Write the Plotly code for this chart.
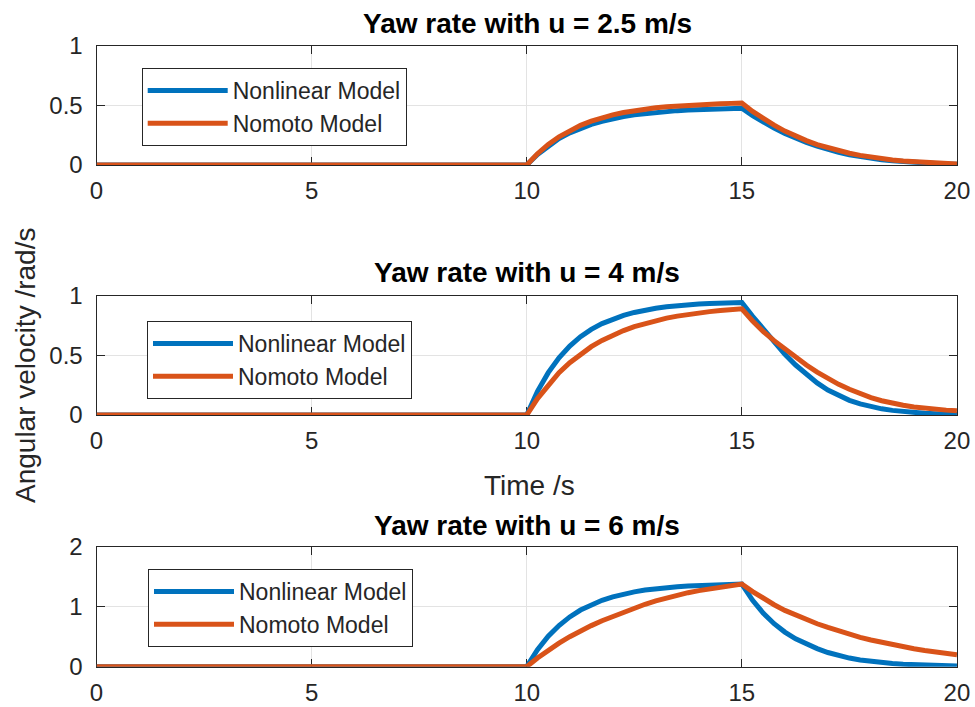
import plotly.graph_objects as go

# Time samples (s)
time_s = [0, 10, 10.25, 10.5, 10.75, 11, 11.25, 11.5, 11.75, 12, 12.25, 12.5, 12.75,
          13, 13.25, 13.5, 13.75, 14, 14.25, 14.5, 14.75, 15, 15.25, 15.5, 15.75,
          16, 16.25, 16.5, 16.75, 17, 17.25, 17.5, 17.75, 18, 18.25, 18.5, 18.75,
          19, 19.25, 19.5, 19.75, 20]

# u = 2.5 m/s
nonlinear_25 = [0, 0, 0.089, 0.162, 0.222, 0.27, 0.31, 0.342, 0.368, 0.39, 0.407, 0.422, 0.433,
                0.443, 0.451, 0.457, 0.462, 0.466, 0.47, 0.473, 0.475, 0.477, 0.415, 0.36, 0.31,
                0.265, 0.225, 0.19, 0.158, 0.13, 0.106, 0.086, 0.069, 0.055, 0.044, 0.035, 0.027,
                0.021, 0.016, 0.012, 0.009, 0.006]
nomoto_25 = [0, 0, 0.095, 0.173, 0.237, 0.29, 0.333, 0.368, 0.397, 0.421, 0.441, 0.457, 0.47,
             0.481, 0.49, 0.497, 0.503, 0.508, 0.512, 0.515, 0.518, 0.52, 0.45, 0.39, 0.335,
             0.285, 0.242, 0.205, 0.172, 0.144, 0.12, 0.099, 0.081, 0.066, 0.053, 0.042, 0.033,
             0.026, 0.02, 0.015, 0.011, 0.008]

# u = 4 m/s
nonlinear_4 = [0, 0, 0.199, 0.356, 0.481, 0.58, 0.658, 0.72, 0.768, 0.807, 0.838, 0.862, 0.882,
               0.897, 0.909, 0.919, 0.926, 0.932, 0.937, 0.941, 0.944, 0.946, 0.83, 0.72, 0.61,
               0.51, 0.42, 0.34, 0.27, 0.21, 0.162, 0.123, 0.093, 0.07, 0.052, 0.039, 0.028,
               0.02, 0.014, 0.01, 0.007, 0.005]
nomoto_4 = [0, 0, 0.138, 0.255, 0.355, 0.44, 0.512, 0.574, 0.627, 0.672, 0.71, 0.743, 0.77,
            0.794, 0.814, 0.831, 0.846, 0.858, 0.869, 0.878, 0.886, 0.892, 0.79, 0.70, 0.625,
            0.555, 0.485, 0.42, 0.36, 0.305, 0.258, 0.216, 0.178, 0.146, 0.12, 0.099, 0.082,
            0.068, 0.057, 0.048, 0.041, 0.035]

# u = 6 m/s
nonlinear_6 = [0, 0, 0.282, 0.507, 0.687, 0.83, 0.944, 1.035, 1.107, 1.165, 1.211, 1.248, 1.277,
               1.30, 1.319, 1.333, 1.345, 1.354, 1.361, 1.367, 1.372, 1.376, 1.107, 0.891, 0.717,
               0.577, 0.465, 0.374, 0.301, 0.236, 0.185, 0.144, 0.112, 0.087, 0.067, 0.052, 0.04,
               0.031, 0.024, 0.018, 0.014, 0.011]
nomoto_6 = [0, 0, 0.145, 0.275, 0.393, 0.50, 0.597, 0.685, 0.766, 0.84, 0.912, 0.979, 1.041,
            1.098, 1.15, 1.195, 1.234, 1.268, 1.299, 1.327, 1.353, 1.378, 1.253, 1.138, 1.033,
            0.938, 0.857, 0.783, 0.716, 0.655, 0.595, 0.54, 0.49, 0.445, 0.403, 0.364, 0.33,
            0.298, 0.27, 0.244, 0.221, 0.20]

titles = ["Yaw rate with u = 2.5 m/s", "Yaw rate with u = 4 m/s", "Yaw rate with u = 6 m/s"]
series_names = ["Nonlinear Model", "Nomoto Model"]
x_ticks = [0, 5, 10, 15, 20]
y_ranges = [[0, 1], [0, 1], [0, 2]]
y_ticks = [[0, 0.5, 1], [0, 0.5, 1], [0, 1, 2]]
y_ticktext = [["0", "0.5", "1"], ["0", "0.5", "1"], ["0", "1", "2"]]

BLUE = "#0072BD"
ORANGE = "#D95319"
AXC = "#262626"
FONT = "Liberation Sans, Arial, sans-serif"

data = [(nonlinear_25, nomoto_25), (nonlinear_4, nomoto_4), (nonlinear_6, nomoto_6)]

fig = go.Figure()
y_domains = [[0.7666, 0.9349], [0.4130, 0.5813], [0.0570, 0.2267]]
x_domain = [0.099, 0.9815]
legend_pos = [(141.7, 68), (147, 321), (148, 569)]
title_y = [23, 272, 525]

for i, (nl, nm) in enumerate(data):
    xa = "x" if i == 0 else f"x{i+1}"
    ya = "y" if i == 0 else f"y{i+1}"
    lg = "legend" if i == 0 else f"legend{i+1}"
    for vals, name, col in [(nl, series_names[0], BLUE), (nm, series_names[1], ORANGE)]:
        fig.add_trace(go.Scatter(
            x=time_s, y=vals, mode="lines", name=name,
            line=dict(color=col, width=5),
            xaxis=xa, yaxis=ya, legend=lg, cliponaxis=False,
        ))

layout = dict(
    width=975, height=707,
    margin=dict(l=0, r=0, t=0, b=0, autoexpand=False),
    paper_bgcolor="white", plot_bgcolor="white",
    font=dict(family=FONT, color=AXC),
    showlegend=True,
)

for i in range(3):
    xk = "xaxis" if i == 0 else f"xaxis{i+1}"
    yk = "yaxis" if i == 0 else f"yaxis{i+1}"
    ya = "y" if i == 0 else f"y{i+1}"
    xa = "x" if i == 0 else f"x{i+1}"
    layout[xk] = dict(
        domain=x_domain, anchor=ya, range=[0, 20], tickvals=x_ticks,
        showgrid=True, gridcolor="#e3e3e3", gridwidth=1,
        showline=True, linecolor=AXC, linewidth=1, mirror="ticks",
        ticks="inside", ticklen=8, tickcolor=AXC, tickwidth=1,
        tickfont=dict(size=24, color=AXC, family=FONT),
        zeroline=False, layer="below traces", ticklabelstandoff=4,
        fixedrange=True, automargin=False,
    )
    layout[yk] = dict(
        domain=y_domains[i], anchor=xa, range=y_ranges[i],
        tickvals=y_ticks[i], ticktext=y_ticktext[i],
        showgrid=True, gridcolor="#e3e3e3", gridwidth=1,
        showline=True, linecolor=AXC, linewidth=1, mirror="ticks",
        ticks="inside", ticklen=8, tickcolor=AXC, tickwidth=1,
        tickfont=dict(size=24, color=AXC, family=FONT),
        zeroline=False, layer="below traces", ticklabelstandoff=8,
        fixedrange=True, automargin=False,
    )
    lk = "legend" if i == 0 else f"legend{i+1}"
    lx, ly = legend_pos[i]
    layout[lk] = dict(
        x=lx / 975, y=1 - ly / 707, xanchor="left", yanchor="top",
        xref="paper", yref="paper",
        bgcolor="white", bordercolor=AXC, borderwidth=1,
        font=dict(size=23, color=AXC, family=FONT),
        itemwidth=80, tracegroupgap=0,
        entrywidth=178, entrywidthmode="pixels",
    )

annotations = []
for i in range(3):
    annotations.append(dict(
        text="<b>" + titles[i] + "</b>", x=527 / 975, y=1 - title_y[i] / 707,
        xref="paper", yref="paper", xanchor="center", yanchor="middle",
        showarrow=False, font=dict(size=28, color="black", family=FONT),
    ))
annotations.append(dict(
    text="Time /s", x=529 / 975, y=1 - 485 / 707, xref="paper", yref="paper",
    xanchor="center", yanchor="middle", showarrow=False,
    font=dict(size=28, color=AXC, family=FONT),
))
annotations.append(dict(
    text="Angular velocity /rad/s", x=25 / 975, y=1 - 366 / 707, xref="paper", yref="paper",
    xanchor="center", yanchor="middle", showarrow=False, textangle=-90,
    font=dict(size=28, color=AXC, family=FONT),
))
layout["annotations"] = annotations

fig.update_layout(**layout)
fig.write_html("out.html")
